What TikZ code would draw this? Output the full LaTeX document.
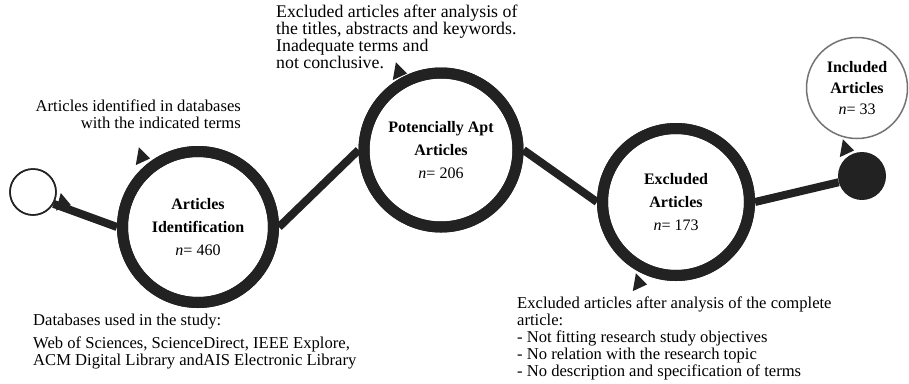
\documentclass[tikz,border=0pt]{standalone}
\usepackage{fontspec}
\setmainfont{Liberation Serif}
\usetikzlibrary{shapes.geometric, positioning, calc}
\definecolor{ink}{HTML}{222222}

\begin{document}
\begin{tikzpicture}[x=1pt, y=-1pt,
  stage/.style={circle, draw=ink, line width=11pt, fill=white, align=center,
                font=\fontsize{16}{23}\selectfont\bfseries, inner sep=0pt},
  link/.style={draw=ink, line width=8pt},
  marker/.style={isosceles triangle, isosceles triangle apex angle=70, fill=ink,
                 inner sep=0pt, minimum size=13pt},
  note/.style={font=\fontsize{16.6}{17}\selectfont, inner sep=0pt},
]
  \useasboundingbox (0,0) rectangle (909,383);

  % circles along the path
  \node[circle, draw=ink, line width=1.5pt, fill=white, minimum size=46pt] (start) at (33,192) {};
  \node[stage, minimum size=151pt] (ident) at (198,227) {Articles\\Identification\\{\mdseries\textit{n}= 460}};
  \node[stage, minimum size=154pt] (apt) at (441,150) {Potencially Apt\\Articles\\{\mdseries\textit{n}= 206}};
  \node[stage, minimum size=147pt] (excl) at (676,202) {Excluded\\Articles\\{\mdseries\textit{n}= 173}};
  \node[circle, fill=ink, minimum size=48pt] (stop) at (862,176) {};
  \node[circle, draw=black!55, line width=1.5pt, fill=white, minimum size=101pt, align=center,
        font=\fontsize{16}{21}\selectfont\bfseries, inner sep=0pt] (incl) at (857,88)
        {Included\\Articles\\{\mdseries\textit{n}= 33}};

  % connectors
  \draw[link] (start.-30) -- (ident.west);
  \draw[link] (ident.east) -- (apt.west);
  \draw[link] (apt.east) -- (excl.west);
  \draw[link] (excl.east) -- (stop.195);

  % redraw rings over the connector ends
  \node[stage, minimum size=151pt, fill=none] at (ident) {};
  \node[stage, minimum size=154pt, fill=none] at (apt) {};
  \node[stage, minimum size=147pt, fill=none] at (excl) {};
  \node[circle, draw=ink, line width=1.5pt, minimum size=46pt] at (start) {};

  % little pointers
  \node[marker, rotate=-15] (m1) at (63,203) {};
  \node[marker, rotate=-10] (m2) at (142,157) {};
  \node[marker, rotate=-10] (m3) at (399,72) {};
  \node[marker, rotate=-10] (m4) at (639,283) {};
  \node[marker, rotate=-10] (m5) at (846,149) {};

  % notes
  \node[note, align=right, anchor=north east] (identNote) at (241,100)
    {Articles identified in databases\\with the indicated terms};
  \node[note, font=\fontsize{17.8}{16.8}\selectfont, align=left, anchor=north west] (aptNote) at (276,5)
    {Excluded articles after analysis of\\the titles, abstracts and keywords.\\Inadequate terms and\\not conclusive.};
  \node[note, align=left, anchor=north west] (dbNote) at (33,314)
    {Databases used in the study:\\[6pt]Web of Sciences, ScienceDirect, IEEE Explore,\\ACM Digital Library andAIS Electronic Library};
  \node[note, align=left, anchor=north west] (exclNote) at (517,297)
    {Excluded articles after analysis of the complete\\article:\\- Not fitting research study objectives\\- No relation with the research topic\\- No description and specification of terms};
\end{tikzpicture}
\end{document}
